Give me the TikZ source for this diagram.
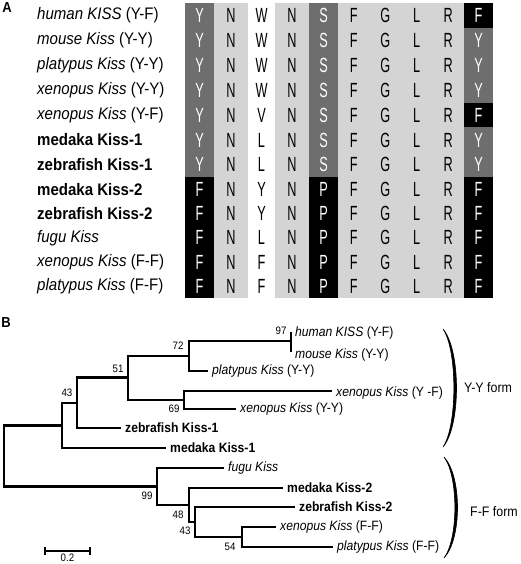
\documentclass[tikz,border=0pt]{standalone}
\usepackage{fontspec}
\setmainfont[FakeStretch=0.9]{Liberation Sans}
\newfontfamily\alnfont[FakeStretch=0.62]{Liberation Sans}
\definecolor{dkgrey}{RGB}{110,110,110}
\definecolor{ltgrey}{RGB}{212,212,212}
\tikzset{
  rowlab/.style={anchor=west,inner sep=0pt,font=\fontsize{16.7}{18}\selectfont},
  aa/.style={inner sep=0pt,font=\alnfont\fontsize{20.5}{22}\selectfont},
  branch/.style={line width=2.1pt},
  leaf/.style={anchor=west,inner sep=0pt,xshift=4pt,font=\fontsize{13.5}{15}\selectfont},
  boot/.style={inner sep=0pt,font=\fontsize{10.8}{12}\selectfont},
  panel/.style={inner sep=0pt,font=\fontsize{14.5}{16}\selectfont\bfseries},
  formlab/.style={anchor=west,inner sep=0pt,font=\fontsize{13.8}{16}\selectfont},
  brace/.style={fill=black,draw=black,line width=0.6pt}
}
\begin{document}
\begin{tikzpicture}[x=1pt,y=-1pt]
\useasboundingbox (0,0) rectangle (520,564);
% ---------- panel A backgrounds ----------
\fill[ltgrey] (214,3) rectangle (248,298.3);
\fill[ltgrey] (275,3) rectangle (493,298.3);
\fill[dkgrey] (185,3) rectangle (214,177.3);
\fill[black] (185,177.3) rectangle (214,298.3);
\fill[dkgrey] (309,3) rectangle (338,177.3);
\fill[black] (309,177.3) rectangle (338,298.3);
\fill[dkgrey] (464,3) rectangle (493,177.3);
\fill[black] (464,3) rectangle (493,27.9);
\fill[black] (464,102.6) rectangle (493,127.5);
\fill[black] (464,177.3) rectangle (493,298.3);
\node[panel] (pA) at (7,8) {A};
% ---------- panel A rows ----------
\foreach \yy/\lab/\seq [count=\i] in {
  15.45/{\textit{human KISS} (Y-F)}/{Y,N,W,N,S,F,G,L,R,F},
  40.35/{\textit{mouse Kiss} (Y-Y)}/{Y,N,W,N,S,F,G,L,R,Y},
  65.25/{\textit{platypus Kiss} (Y-Y)}/{Y,N,W,N,S,F,G,L,R,Y},
  90.15/{\textit{xenopus Kiss} (Y-Y)}/{Y,N,W,N,S,F,G,L,R,Y},
  115.05/{\textit{xenopus Kiss} (Y-F)}/{Y,N,V,N,S,F,G,L,R,F},
  139.95/{\textbf{medaka Kiss-1}}/{Y,N,L,N,S,F,G,L,R,Y},
  164.85/{\textbf{zebrafish Kiss-1}}/{Y,N,L,N,S,F,G,L,R,Y},
  189.4/{\textbf{medaka Kiss-2}}/{F,N,Y,N,P,F,G,L,R,F},
  213.6/{\textbf{zebrafish Kiss-2}}/{F,N,Y,N,P,F,G,L,R,F},
  237.8/{\textit{fugu Kiss}}/{F,N,L,N,P,F,G,L,R,F},
  262.0/{\textit{xenopus Kiss} (F-F)}/{F,N,F,N,P,F,G,L,R,F},
  286.2/{\textit{platypus Kiss} (F-F)}/{F,N,F,N,P,F,G,L,R,F}}{
  \node[rowlab] (lab\i) at (37,\yy) {\lab};
  \foreach \l [count=\j] in \seq {
    \pgfmathsetmacro\xx{{199.5,231,261.5,292,323.5,353.75,385.25,416.75,448.25,478.5}[\j-1]}
    \pgfmathtruncatemacro\w{(\j==1)||(\j==5)||(\j==10)}
    \ifnum\w=1
      \node[aa,text=white] (a\i-\j) at (\xx,\yy) {\l};
    \else
      \node[aa] (a\i-\j) at (\xx,\yy) {\l};
    \fi
  }
}
% ---------- panel B ----------
\node[panel] (pB) at (6,323) {B};
% internal nodes
\coordinate (root) at (4,457);
\coordinate (n62) at (62,425.5);
\coordinate (n43) at (77,403);
\coordinate (n51) at (128,377.5);
\coordinate (n72) at (189,356);
\coordinate (n97) at (291,341);
\coordinate (n69) at (184,400);
\coordinate (n99) at (157,486.5);
\coordinate (n48) at (189,505);
\coordinate (n43b) at (195,522);
\coordinate (n54) at (242,537);
% leaf ends
\coordinate (eHuman) at (291,332);
\coordinate (eMouse) at (291,352);
\coordinate (ePlatY) at (208,371);
\coordinate (eXenYF) at (332,391);
\coordinate (eXenYY) at (236,409);
\coordinate (eZeb1) at (121,428);
\coordinate (eMed1) at (166,448);
\coordinate (eFugu) at (224,468);
\coordinate (eMed2) at (283,488);
\coordinate (eZeb2) at (295,507);
\coordinate (eXenFF) at (276,527);
\coordinate (ePlatF) at (333,547);
% branches
\draw[branch] (root) |- (n62);
\draw[branch] (root) |- (n99);
\draw[branch] (n62) |- (n43);
\draw[branch] (n62) |- (eMed1);
\draw[branch] (n43) |- (n51);
\draw[branch] (n43) |- (eZeb1);
\draw[branch] (n51) |- (n72);
\draw[branch] (n51) |- (n69);
\draw[branch] (n72) |- (n97);
\draw[branch] (n72) |- (ePlatY);
\draw[branch] (eHuman) -- (eMouse);
\draw[branch] (n69) |- (eXenYF);
\draw[branch] (n69) |- (eXenYY);
\draw[branch] (n99) |- (eFugu);
\draw[branch] (n99) |- (n48);
\draw[branch] (n48) |- (eMed2);
\draw[branch] (n48) |- (n43b);
\draw[branch] (n43b) |- (eZeb2);
\draw[branch] (n43b) |- (n54);
\draw[branch] (n54) |- (eXenFF);
\draw[branch] (n54) |- (ePlatF);
% leaf labels
\node[leaf] (tHuman) at ([yshift=-1pt]eHuman) {\textit{human KISS} (Y-F)};
\node[leaf] (tMouse) at ([yshift=-3pt]eMouse) {\textit{mouse Kiss} (Y-Y)};
\node[leaf] (tPlatY) at (ePlatY) {\textit{platypus Kiss} (Y-Y)};
\node[leaf] (tXenYF) at ([yshift=-2pt]eXenYF) {\textit{xenopus Kiss} (Y -F)};
\node[leaf] (tXenYY) at (eXenYY) {\textit{xenopus Kiss} (Y-Y)};
\node[leaf] (tZeb1) at (eZeb1) {\textbf{zebrafish Kiss-1}};
\node[leaf] (tMed1) at (eMed1) {\textbf{medaka Kiss-1}};
\node[leaf] (tFugu) at (eFugu) {\textit{fugu Kiss}};
\node[leaf] (tMed2) at (eMed2) {\textbf{medaka Kiss-2}};
\node[leaf] (tZeb2) at (eZeb2) {\textbf{zebrafish Kiss-2}};
\node[leaf] (tXenFF) at (eXenFF) {\textit{xenopus Kiss} (F-F)};
\node[leaf] (tPlatF) at (ePlatF) {\textit{platypus Kiss} (F-F)};
% bootstrap values
\node[boot] (b97) at (281,331) {97};
\node[boot] (b72) at (178,346) {72};
\node[boot] (b51) at (118,369) {51};
\node[boot] (b43) at (67,393) {43};
\node[boot] (b69) at (174,409) {69};
\node[boot] (b99) at (147,496) {99};
\node[boot] (b48) at (178,515) {48};
\node[boot] (b43b) at (185,531) {43};
\node[boot] (b54) at (230,547) {54};
% braces
\path[brace] (443,329) .. controls (461,350) and (461,426) .. (443,447)
  .. controls (457.5,426) and (457.5,350) .. (443,329) -- cycle;
\path[brace] (444,457) .. controls (462,476) and (462,539) .. (444,558)
  .. controls (458.5,539) and (458.5,476) .. (444,457) -- cycle;
\node[formlab] (fYY) at (464,388) {Y-Y form};
\node[formlab] (fFF) at (470,512) {F-F form};
% scale bar
\coordinate (sbL) at (45,551);
\coordinate (sbR) at (90,551);
\draw[branch] (sbL) -- (sbR);
\draw[branch] ([yshift=-4pt]sbL) -- ([yshift=4pt]sbL);
\draw[branch] ([yshift=-4pt]sbR) -- ([yshift=4pt]sbR);
\node[boot] (sbT) at (67.5,558) {0.2};
\end{tikzpicture}
\end{document}
